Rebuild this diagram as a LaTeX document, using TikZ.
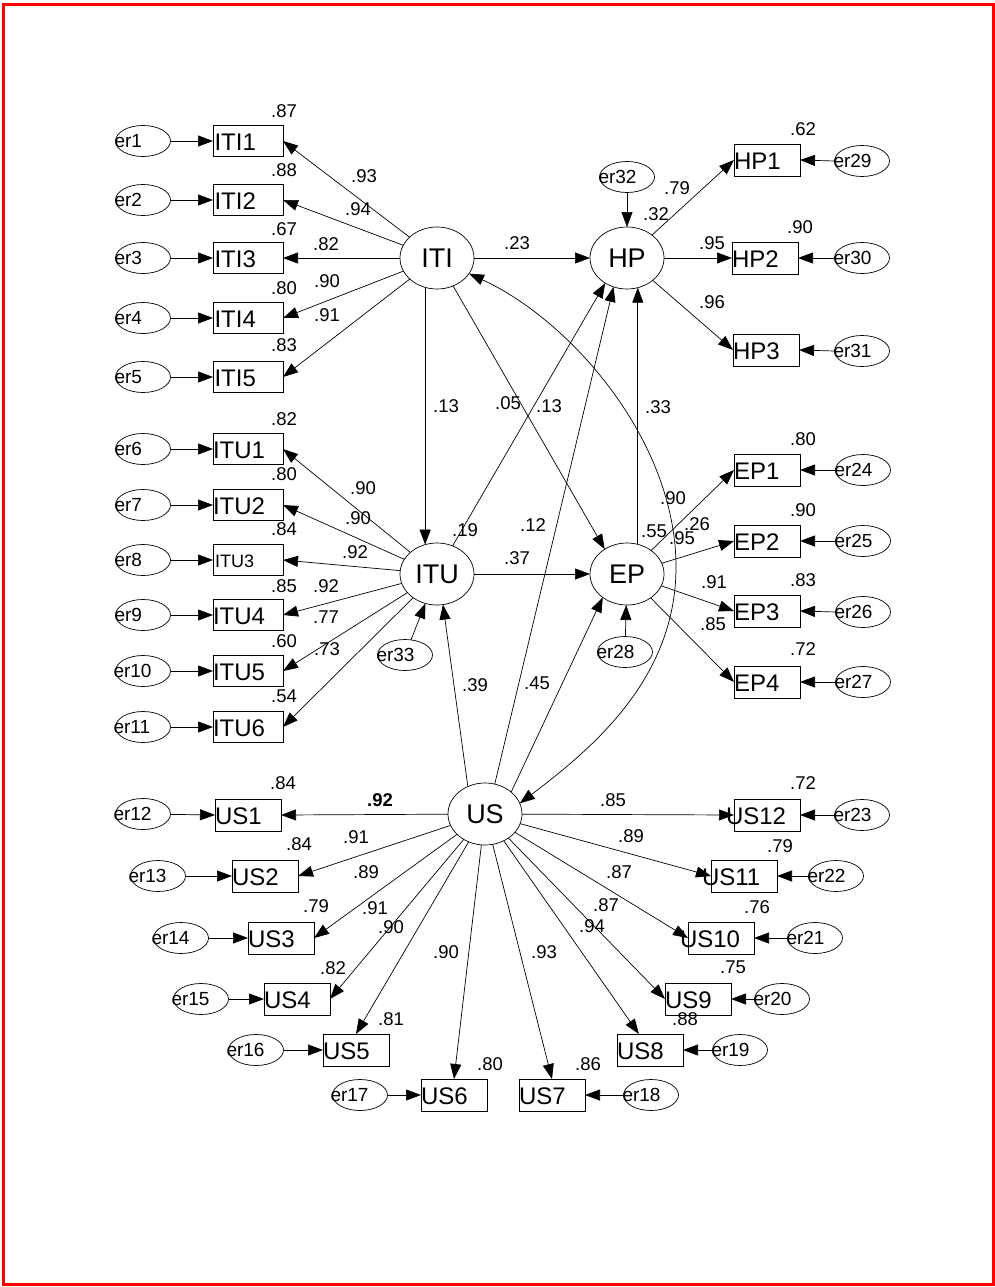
\documentclass[tikz,border=0pt]{standalone}
\usepackage{fontspec}
\setmainfont{Liberation Sans}
\usepackage{graphicx}
\usetikzlibrary{arrows.meta,shapes.geometric}

% observed variable: empty box plus left-aligned label
\newcommand\obsbox[5][0pt]{%
  \node[#2] (#3) at (#4) {};
  \node[otxt, xshift=#1] (#3t) at (#3.west) {#5};}
% error term: empty ellipse plus left-aligned label
\newcommand\errlab[4][-1pt]{%
  \node[err] (#2) at (#3) {};
  \node[etxt, xshift=#1] (#2t) at (#2.west) {#4};}

\begin{document}
\begin{tikzpicture}[x=1pt,y=-1pt,
  every node/.style={inner sep=0pt, outer sep=0pt},
  lat/.style={ellipse, draw, line width=0.7pt, minimum width=74pt, minimum height=62pt,
    font=\fontsize{27}{27}\selectfont},
  obs/.style={rectangle, draw, line width=0.7pt, minimum width=66pt, minimum height=32pt},
  wobs/.style={obs, minimum width=70pt, minimum height=31pt},
  otxt/.style={anchor=west, yshift=-1pt, font=\fontsize{24}{24}\selectfont},
  smalltxt/.style={font=\fontsize{18}{18}\selectfont},
  err/.style={ellipse, draw, line width=0.7pt, minimum width=55pt, minimum height=31pt},
  etxt/.style={anchor=west, font=\fontsize{19}{19}\selectfont},
  coef/.style={font=\fontsize{18.5}{18.5}\selectfont},
  arr/.style={line width=0.7pt, -{Triangle[length=15pt,width=11pt]}},
  darr/.style={line width=0.7pt, {Triangle[length=15pt,width=11pt]}-{Triangle[length=15pt,width=11pt]}},
]
\useasboundingbox (0,0) rectangle (995,1287);
\draw[red, line width=3pt] (3.5,4.5) rectangle (993,1284);

% ---------- latent variables ----------
\node[lat] (ITI) at (437,258) {ITI};
\node[lat] (HP)  at (627,258) {HP};
\node[lat] (ITU) at (437,574) {ITU};
\node[lat] (EP)  at (627,574) {EP};
\node[lat] (US)  at (485,814) {US};

% ---------- ITI indicators ----------
\obsbox[1.5pt]{wobs}{ITI1}{248,141}{ITI1}
\obsbox[1.5pt]{wobs}{ITI2}{248,200}{ITI2}
\obsbox[1.5pt]{wobs}{ITI3}{248,258}{ITI3}
\obsbox[1.5pt]{wobs}{ITI4}{248,318}{ITI4}
\obsbox[1.5pt]{wobs}{ITI5}{248,377}{ITI5}
\errlab{e1}{143,141}{er1}
\errlab{e2}{143,200}{er2}
\errlab{e3}{143,258}{er3}
\errlab{e4}{143,318}{er4}
\errlab{e5}{143,377}{er5}

% ---------- ITU indicators ----------
\obsbox{wobs}{ITU1}{248,449}{ITU1}
\obsbox{wobs}{ITU2}{248,505}{ITU2}
\node[wobs] (ITU3) at (248,560) {};
\node[otxt, smalltxt, xshift=2pt] (ITU3t) at (ITU3.west) {ITU3};
\obsbox{wobs}{ITU4}{248,615}{ITU4}
\obsbox{wobs}{ITU5}{248,671}{ITU5}
\obsbox{wobs}{ITU6}{248,727}{ITU6}
\errlab{e6}{143,449}{er6}
\errlab{e7}{143,505}{er7}
\errlab{e8}{143,560}{er8}
\errlab{e9}{143,615}{er9}
\errlab[-2pt]{e10}{143,671}{er10}
\errlab[-2pt]{e11}{143,727}{er11}

% ---------- HP indicators ----------
\obsbox{obs}{HP1}{767,160}{HP1}
\obsbox{obs}{HP2}{765,258}{HP2}
\obsbox{obs}{HP3}{766,350}{HP3}
\errlab{e29}{862,161}{er29}
\errlab{e30}{862,258}{er30}
\errlab{e31}{862,351}{er31}

% ---------- EP indicators ----------
\obsbox{obs}{EP1}{767,470}{EP1}
\obsbox{obs}{EP2}{767,541}{EP2}
\obsbox{obs}{EP3}{767,611}{EP3}
\obsbox{obs}{EP4}{767,682}{EP4}
\errlab{e24}{863,470}{er24}
\errlab{e25}{863,541}{er25}
\errlab{e26}{863,612}{er26}
\errlab{e27}{863,682}{er27}

% ---------- US indicators ----------
\obsbox{obs}{US1}{248,815}{US1}
\obsbox{obs}{US2}{265,876}{US2}
\obsbox{obs}{US3}{281,938}{US3}
\obsbox{obs}{US4}{297,999}{US4}
\obsbox{obs}{US5}{356,1050}{US5}
\obsbox{obs}{US6}{454,1095}{US6}
\obsbox{obs}{US7}{552,1095}{US7}
\obsbox{obs}{US8}{650,1050}{US8}
\obsbox{obs}{US9}{698,999}{US9}
\obsbox[-8pt]{obs}{US10}{721,938}{US10}
\obsbox[-9pt]{obs}{US11}{744,876}{US11}
\obsbox[-8pt]{obs}{US12}{767,815}{US12}
\errlab[-2pt]{e12}{143,814}{er12}
\errlab[-2pt]{e13}{158,876}{er13}
\errlab[-2pt]{e14}{181,938}{er14}
\errlab[-2pt]{e15}{201,999}{er15}
\errlab[-2pt]{e16}{256,1050}{er16}
\errlab[-2pt]{e17}{360,1095}{er17}
\errlab{e18}{651,1095}{er18}
\errlab{e19}{740,1050}{er19}
\errlab{e20}{782,999}{er20}
\errlab{e21}{815,938}{er21}
\errlab{e22}{836,876}{er22}
\errlab{e23}{862,815}{er23}

% ---------- disturbances ----------
\errlab{e32}{627,177}{er32}
\errlab{e28}{625,652}{er28}
\errlab{e33}{405,655}{er33}

% ---------- measurement paths ----------
\foreach \i in {1,...,5} \draw[arr] (ITI) -- (ITI\i.east);
\foreach \i in {1,...,6} \draw[arr] (ITU) -- (ITU\i.east);
\foreach \i in {1,...,3} \draw[arr] (HP) -- (HP\i.west);
\foreach \i in {1,...,4} \draw[arr] (EP) -- (EP\i.west);
\foreach \i in {1,...,4} \draw[arr] (US) -- (US\i.east);
\foreach \i in {5,6,7} \draw[arr] (US) -- (US\i.north);
\draw[arr] (US) -- (US8);
\foreach \i in {9,10,11,12} \draw[arr] (US) -- (US\i.west);

% ---------- error paths ----------
\foreach \e/\v in {e1/ITI1,e2/ITI2,e3/ITI3,e4/ITI4,e5/ITI5,
                   e6/ITU1,e7/ITU2,e8/ITU3,e9/ITU4,e10/ITU5,e11/ITU6,
                   e12/US1,e13/US2,e14/US3,e15/US4,e16/US5,e17/US6}
  \draw[arr] (\e) -- (\v.west);
\foreach \e/\v in {e29/HP1,e30/HP2,e31/HP3,e24/EP1,e25/EP2,e26/EP3,e27/EP4,
                   e18/US7,e19/US8,e20/US9,e21/US10,e22/US11,e23/US12}
  \draw[arr] (\e.west) -- (\v.east);
\draw[arr] (e32) -- (HP);
\draw[arr] (e28) -- (EP);
\draw[arr] (e33) -- (ITU);

% ---------- structural paths ----------
\draw[arr] (ITI) -- (HP);
\draw[arr] (ITU) -- (EP);
\draw[arr] (ITI.-112) -- (ITU.112);
\draw[arr] (ITI.-60) -- (EP.132);
\draw[arr] (ITU.61) -- (HP.-131);
\draw[arr] (US.72) -- (HP.-115);
\draw[arr] (US.122) -- (ITU.-79);
\draw[arr] (US.40) -- (EP.-136);
\draw[arr] (EP.70) -- (HP.-70);
\coordinate (bend) at (676,567);
\draw[darr] (ITI.-26) .. controls (570,320) and (676,440) .. (bend)
            .. controls (676,680) and (590,750) .. (US.17);

% ---------- estimates ----------
\node[coef] (c1) at (284,111) {.87};
\node[coef] (c2) at (284,170) {.88};
\node[coef] (c3) at (284,229) {.67};
\node[coef] (c4) at (284,288) {.80};
\node[coef] (c5) at (284,345) {.83};
\node[coef] (c6) at (364,176) {.93};
\node[coef] (c7) at (358,209) {.94};
\node[coef] (c8) at (326,244) {.82};
\node[coef] (c9) at (327,281) {.90};
\node[coef] (c10) at (327,315) {.91};
\node[coef] (c11) at (284,419) {.82};
\node[coef] (c12) at (284,474) {.80};
\node[coef] (c13) at (284,529) {.84};
\node[coef] (c14) at (284,586) {.85};
\node[coef] (c15) at (284,641) {.60};
\node[coef] (c16) at (284,696) {.54};
\node[coef] (c17) at (363,488) {.90};
\node[coef] (c18) at (358,518) {.90};
\node[coef] (c19) at (355,552) {.92};
\node[coef] (c20) at (326,586) {.92};
\node[coef] (c21) at (326,617) {.77};
\node[coef] (c22) at (327,649) {.73};
\node[coef] (c23) at (446,406) {.13};
\node[coef] (c24) at (508,403) {.05};
\node[coef] (c25) at (549,406) {.13};
\node[coef] (c26) at (658,407) {.33};
\node[coef] (c27) at (517,243) {.23};
\node[coef] (c28) at (677,188) {.79};
\node[coef] (c29) at (656,214) {.32};
\node[coef] (c30) at (712,243) {.95};
\node[coef] (c31) at (712,302) {.96};
\node[coef] (c32) at (803,129) {.62};
\node[coef] (c33) at (800,227) {.90};
\node[coef] (c34) at (465,530) {.19};
\node[coef] (c35) at (533,525) {.12};
\node[coef] (c36) at (517,558) {.37};
\node[coef] (c37) at (673,498) {.90};
\node[coef] (c38) at (654,531) {.55};
\node[coef] (c39) at (697,524) {.26};
\node[coef] (c40) at (682,538) {.95};
\node[coef] (c41) at (803,439) {.80};
\node[coef] (c42) at (803,510) {.90};
\node[coef] (c43) at (803,580) {.83};
\node[coef] (c44) at (803,649) {.72};
\node[coef] (c45) at (714,582) {.91};
\node[coef] (c46) at (713,624) {.85};
\node[coef] (c47) at (475,685) {.39};
\node[coef] (c48) at (537,683) {.45};
\node[coef] (c49) at (283,783) {.84};
\node[coef, font=\fontsize{18.5}{18.5}\selectfont\bfseries] (c50) at (380,800) {.92};
\node[coef] (c51) at (299,844) {.84};
\node[coef] (c52) at (356,837) {.91};
\node[coef] (c53) at (366,872) {.89};
\node[coef] (c54) at (316,906) {.79};
\node[coef] (c55) at (375,908) {.91};
\node[coef] (c56) at (391,927) {.90};
\node[coef] (c57) at (333,968) {.82};
\node[coef] (c58) at (391,1019) {.81};
\node[coef] (c59) at (446,952) {.90};
\node[coef] (c60) at (490,1064) {.80};
\node[coef] (c61) at (803,783) {.72};
\node[coef] (c62) at (613,800) {.85};
\node[coef] (c63) at (631,836) {.89};
\node[coef] (c64) at (780,846) {.79};
\node[coef] (c65) at (619,872) {.87};
\node[coef] (c66) at (757,907) {.76};
\node[coef] (c67) at (606,905) {.87};
\node[coef] (c68) at (592,926) {.94};
\node[coef] (c69) at (733,967) {.75};
\node[coef] (c70) at (685,1019) {.88};
\node[coef] (c71) at (544,952) {.93};
\node[coef] (c72) at (588,1064) {.86};
\end{tikzpicture}
\end{document}
